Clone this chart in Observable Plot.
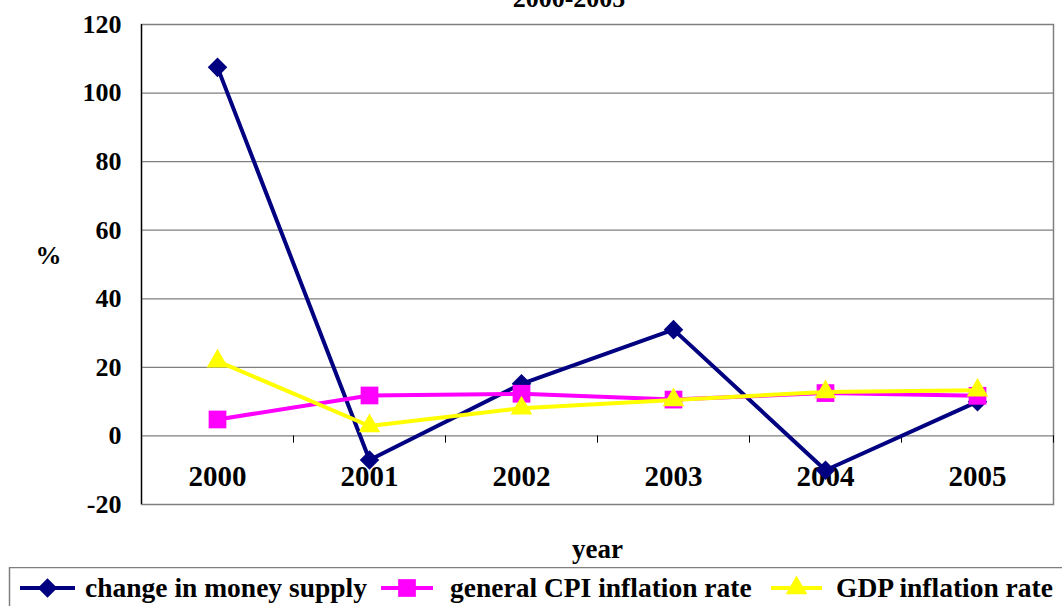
<!DOCTYPE html>
<html>
<head>
<meta charset="utf-8">
<script src="https://cdn.jsdelivr.net/npm/d3@7"></script>
<script src="https://cdn.jsdelivr.net/npm/@observablehq/plot@0.6"></script>
<style>
  html, body { margin: 0; padding: 0; background: #fff; overflow: hidden; }
  #wrap { position: relative; width: 1062px; height: 606px; overflow: hidden; font-family: "Liberation Serif", "Times New Roman", serif; }
  #title { position: absolute; top: -14px; left: 469px; width: 200px; text-align: center; font-size: 26px; line-height: 26px; font-weight: bold; font-family: "Liberation Serif", serif; }
  #chart { position: absolute; top: 0; left: 0; }
  #legend { position: absolute; top: 567px; left: 0; }
  #chart text { font-family: "Liberation Serif", "Times New Roman", serif; }
</style>
</head>
<body>
<div id="wrap">
  <div id="chart"></div>
  <div id="title"></div>
  <div id="legend"></div>
</div>
<script>
const titleText = "2000-2005";
const years = [2000, 2001, 2002, 2003, 2004, 2005];
const moneySupply = [107.5, -7, 15.2, 31, -10, 10];
const cpiInflation = [4.8, 11.8, 12.3, 10.6, 12.5, 11.7];
const gdpInflation = [21.8, 2.9, 8.1, 10.5, 12.8, 13.3];
const yTicks = [-20, 0, 20, 40, 60, 80, 100, 120];
const seriesNames = ["change in money supply", "general CPI inflation rate", "GDP inflation rate"];
const seriesColors = ["#000080", "#FF00FF", "#FFFF00"];
const seriesSymbols = ["diamond2", "square", "triangle"];
const seriesRadius = [8.8, 10, 8];
const xLabel = "year";
const yLabel = "%";

const seriesValues = [moneySupply, cpiInflation, gdpInflation];
const data = seriesValues.flatMap((vals, s) => years.map((yr, i) => ({series: seriesNames[s], year: yr, value: vals[i]})));
const bounds = years.map(y => y + 0.5);

const font = "Liberation Serif";

document.getElementById("title").textContent = titleText;

const marks = [
  Plot.ruleY(yTicks, {stroke: "#7f7f7f", strokeWidth: 1.2}),
  Plot.frame({stroke: "#7f7f7f", strokeWidth: 1.5}),
  Plot.ruleX(bounds, {y1: 0, y2: -2.1, stroke: "#000", strokeWidth: 1}),
  Plot.ruleX([years[0] - 0.5], {stroke: "#000", strokeWidth: 1.3}),
  Plot.axisY(yTicks, {tickSize: 7, tickPadding: 13, fontSize: 26, fontWeight: "bold", fontFamily: font, fill: "#000", stroke: null, label: null, tickFormat: d => String(d)}),
  Plot.text(years, {x: d => d, y: 0, dy: 41, text: d => String(d), fontSize: 29, fontWeight: "bold", fontFamily: font, fill: "#000"}),
  Plot.text([xLabel], {frameAnchor: "bottom", dy: 53, fontSize: 27, fontWeight: "bold", fontFamily: font, fill: "#000"}),
  Plot.text([yLabel], {frameAnchor: "left", dx: -93, dy: -9, textAnchor: "middle", fontSize: 26, fontWeight: "bold", fontFamily: font, fill: "#000"})
];
seriesNames.forEach((name, s) => {
  const d = data.filter(r => r.series === name);
  marks.push(Plot.line(d, {x: "year", y: "value", stroke: seriesColors[s], strokeWidth: 4}));
  marks.push(Plot.dot(d, {x: "year", y: "value", symbol: () => seriesSymbols[s], fill: seriesColors[s], r: seriesRadius[s], stroke: null}));
});

const chart = Plot.plot({
  width: 1062,
  height: 560,
  marginLeft: 141,
  marginRight: 9,
  marginTop: 24,
  marginBottom: 56,
  style: {fontFamily: "'Liberation Serif', serif", background: "transparent", overflow: "visible"},
  x: {domain: [years[0] - 0.5, years[years.length - 1] + 0.5], axis: null},
  y: {domain: [-20, 120], axis: null},
  symbol: {type: "identity"},
  marks
});
document.getElementById("chart").appendChild(chart);

// legend
const legendItems = [
  {x1: 20, x2: 75, tx: 85},
  {x1: 381, x2: 433, tx: 450},
  {x1: 771, x2: 822, tx: 836}
];
const symMap = {diamond2: d3.symbolDiamond2, square: d3.symbolSquare, triangle: d3.symbolTriangle};
const lg = d3.select("#legend").append("svg").attr("width", 1062).attr("height", 39);
lg.append("rect").attr("x", 9.5).attr("y", 0.5).attr("width", 1100).attr("height", 80)
  .attr("fill", "none").attr("stroke", "#7f7f7f").attr("stroke-width", 1.5);
legendItems.forEach((it, s) => {
  const cy = 21;
  lg.append("line").attr("x1", it.x1).attr("x2", it.x2).attr("y1", cy).attr("y2", cy)
    .attr("stroke", seriesColors[s]).attr("stroke-width", 4);
  const r = seriesRadius[s];
  lg.append("path").attr("transform", `translate(${(it.x1 + it.x2) / 2},${cy})`)
    .attr("d", d3.symbol(symMap[seriesSymbols[s]], r * r * Math.PI)())
    .attr("fill", seriesColors[s]);
  lg.append("text").attr("x", it.tx).attr("y", 30).text(seriesNames[s])
    .attr("font-family", "Liberation Serif").attr("font-size", 27.5).attr("font-weight", "bold").attr("fill", "#000");
});
</script>
</body>
</html>
